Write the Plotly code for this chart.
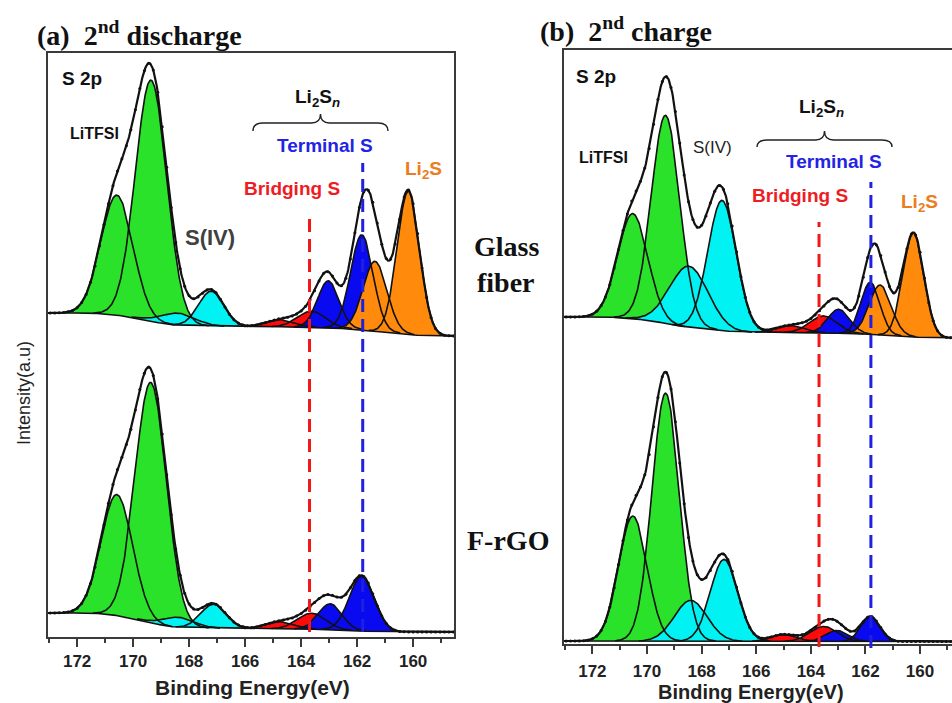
import numpy as np
import plotly.graph_objects as go

W, H = 952, 703

# ---------------- data ----------------
# component order: LiTFSI(2), S(IV)(2), bridging S(2), terminal S(2), Li2S(2)
comp_kind = ["green", "green", "cyan", "cyan", "red", "red", "blue", "blue", "orange", "orange"]

# (a) 2nd discharge - Glass fiber
a_gf_center = [170.58, 169.36, 168.40, 167.21, 164.75, 163.62, 163.03, 161.83, 161.36, 160.17]
a_gf_height = [120, 241, 12, 35, 7, 16, 47, 95, 70, 143]
a_gf_sigma = [0.57, 0.56, 0.60, 0.45, 0.50, 0.50, 0.38, 0.40, 0.42, 0.40]
a_gf_bg = [25, 2]      # background: high-BE side, low-BE side

# (a) 2nd discharge - F-rGO
a_fr_center = [170.58, 169.37, 168.38, 167.13, 164.75, 163.62, 162.96, 161.83]
a_fr_height = [121, 240, 10, 24, 7, 16, 26, 55]
a_fr_sigma = [0.56, 0.56, 0.55, 0.45, 0.50, 0.50, 0.42, 0.45]
a_fr_bg = [24, 5]

# (b) 2nd charge - Glass fiber
b_gf_center = [170.52, 169.32, 168.47, 167.25, 164.75, 163.53, 162.98, 161.82, 161.46, 160.24]
b_gf_height = [105, 208, 61, 130, 7, 17, 24, 52, 50, 104]
b_gf_sigma = [0.55, 0.52, 0.70, 0.52, 0.50, 0.50, 0.40, 0.35, 0.40, 0.38]
b_gf_bg = [23, 2]

# (b) 2nd charge - F-rGO
b_fr_center = [170.52, 169.32, 168.40, 167.18, 165.00, 163.53, 163.04, 161.82]
b_fr_height = [125, 248, 41, 82, 7, 15, 11, 25]
b_fr_sigma = [0.52, 0.50, 0.60, 0.50, 0.45, 0.50, 0.40, 0.35]
b_fr_bg = [3, 2.5]

# reference lines (binding energy, eV)
bridging_S_BE = 163.7
terminal_S_BE = 161.8

x_ticks = [160, 162, 164, 166, 168, 170, 172]

# ---------------- style ----------------
fill_col = {"green": "#2AE22A", "cyan": "#00F2F2", "red": "#FF0A0A",
            "blue": "#0A0AF0", "orange": "#FF8A0C"}

def px(x):
    return x / W

def py(y):
    return 1 - y / H

fig = go.Figure()

E = np.arange(158.4, 173.2, 0.02)


def add_spectrum(centers, heights, sigmas, bg, xa, ya, offset):
    peaks = [h * np.exp(-(E - c) ** 2 / (2 * s ** 2)) for c, h, s in zip(centers, heights, sigmas)]
    total = np.sum(peaks, axis=0)
    cum = np.cumsum(total)
    back = bg[1] + (bg[0] - bg[1]) * cum / cum[-1]
    # fills
    for k, p in enumerate(peaks):
        m = p > 0.25
        xx = E[m]
        up = back[m] + p[m] + offset
        lo = back[m] + offset
        fig.add_trace(go.Scatter(x=np.concatenate([xx, xx[::-1]]),
                                 y=np.concatenate([up, lo[::-1]]),
                                 fill="toself", fillcolor=fill_col[comp_kind[k]],
                                 mode="lines", line=dict(width=0),
                                 xaxis=xa, yaxis=ya, hoverinfo="skip", showlegend=False))
    # outlines
    for k, p in enumerate(peaks):
        m = p > 0.25
        fig.add_trace(go.Scatter(x=E[m], y=back[m] + p[m] + offset, mode="lines",
                                 line=dict(color="#111", width=1.6),
                                 xaxis=xa, yaxis=ya, hoverinfo="skip", showlegend=False))
    fig.add_trace(go.Scatter(x=E, y=back + offset, mode="lines",
                             line=dict(color="#111", width=1.6),
                             xaxis=xa, yaxis=ya, hoverinfo="skip", showlegend=False))
    # envelope
    env = back + total + offset
    fig.add_trace(go.Scatter(x=E, y=env, mode="lines",
                             line=dict(color="#111", width=2.2),
                             xaxis=xa, yaxis=ya, hoverinfo="skip", showlegend=False))
    fig.add_trace(go.Scatter(x=E[::8], y=env[::8], mode="markers",
                             marker=dict(color="#111", size=3),
                             xaxis=xa, yaxis=ya, hoverinfo="skip", showlegend=False))


add_spectrum(a_gf_center, a_gf_height, a_gf_sigma, a_gf_bg, "x", "y", 299)
add_spectrum(a_fr_center, a_fr_height, a_fr_sigma, a_fr_bg, "x", "y", 0)
add_spectrum(b_gf_center, b_gf_height, b_gf_sigma, b_gf_bg, "x2", "y2", 304)
add_spectrum(b_fr_center, b_fr_height, b_fr_sigma, b_fr_bg, "x2", "y2", 0)

frame = "#3a3a3a"
tickfont = dict(family="Arial", size=17, color="#222", weight="bold")

xcommon = dict(showline=True, linecolor=frame, linewidth=2, mirror=True,
               ticks="outside", ticklen=8, tickwidth=2, tickcolor=frame,
               tickvals=x_ticks, tickfont=tickfont, showgrid=False, zeroline=False,
               minor=dict(dtick=1, tick0=160, ticks="outside", ticklen=4,
                          tickwidth=2, tickcolor=frame, showgrid=False))

fig.update_layout(
    width=W, height=H, margin=dict(l=0, r=0, t=0, b=0),
    paper_bgcolor="white", plot_bgcolor="white", showlegend=False,
    xaxis=dict(domain=[px(48), px(454)], range=[173.04, 158.54], anchor="y", **xcommon),
    yaxis=dict(domain=[py(637), py(53)], range=[0, 584], anchor="x",
               showline=True, linecolor=frame, linewidth=2, mirror=True,
               showticklabels=False, ticks="", showgrid=False, zeroline=False),
    xaxis2=dict(domain=[px(564), 1.0], range=[173.04, 158.83], anchor="y2",
                ticklabelstandoff=3, **xcommon),
    yaxis2=dict(domain=[py(644), py(50)], range=[0, 594], anchor="x2",
                showline=True, linecolor=frame, linewidth=2, mirror=False,
                showticklabels=False, ticks="", showgrid=False, zeroline=False),
)

shapes = []
# dashed reference lines
for xa, x0, ya0, ya1, col in [("x", bridging_S_BE, 213, 632, "#F01818"),
                              ("x", terminal_S_BE, 163, 632, "#2020E0"),
                              ("x2", bridging_S_BE, 222, 647, "#F01818"),
                              ("x2", terminal_S_BE, 182, 648, "#2020E0")]:
    shapes.append(dict(type="line", xref=xa, yref="paper", x0=x0, x1=x0,
                       y0=py(ya1), y1=py(ya0),
                       line=dict(color=col, width=3, dash="13px,7px")))


def brace(xl, xr, yb, yh, yt):
    xm = (xl + xr) / 2
    pts = [(xl, yb), (xl, yh), (xl + 10, yh), (xm - 9, yh), (xm, yh), (xm, yt),
           (xm, yh), (xm + 9, yh), (xr - 10, yh), (xr, yh), (xr, yb)]
    p = [(px(a), py(b)) for a, b in pts]
    path = ("M {0[0]},{0[1]} Q {1[0]},{1[1]} {2[0]},{2[1]} L {3[0]},{3[1]} "
            "Q {4[0]},{4[1]} {5[0]},{5[1]} Q {6[0]},{6[1]} {7[0]},{7[1]} "
            "L {8[0]},{8[1]} Q {9[0]},{9[1]} {10[0]},{10[1]}").format(*p)
    return dict(type="path", xref="paper", yref="paper", path=path,
                line=dict(color="#222", width=1.4))


shapes.append(brace(253, 388, 131, 123, 114))
shapes.append(brace(757, 892, 147, 140, 131))
fig.update_layout(shapes=shapes)

ann = []


def txt(text, x, y, size, color="#111", family="Arial", weight="bold", xanchor="center", angle=0):
    ann.append(dict(text=text, x=px(x), y=py(y), xref="paper", yref="paper",
                    xanchor=xanchor, yanchor="middle", showarrow=False, textangle=angle,
                    font=dict(family=family, size=size, color=color, weight=weight)))


serif = "Liberation Serif"
txt("(a)\u00a0\u00a02<sup>nd</sup> discharge", 35, 33, 28, family=serif, xanchor="left")
txt("(b)\u00a0\u00a02<sup>nd</sup> charge", 538, 29, 28, family=serif, xanchor="left")
txt("Glass", 506, 247, 28, family=serif)
txt("fiber", 506, 282, 28, family=serif)
txt("F-rGO", 508, 540, 28, family=serif)

# panel (a) labels
txt("S 2p", 82, 79, 19)
txt("LiTFSI", 94, 133, 16)
txt("S(IV)", 210, 237, 22, color="#404040")
txt("Li<sub>2</sub>S<sub><i>n</i></sub>", 317, 98, 19)
txt("Terminal S", 325, 146, 19, color="#2323E6")
txt("Bridging S", 292, 188, 19, color="#EE1C24")
txt("Li<sub>2</sub>S", 423, 170, 19, color="#EA7D1E")
# panel (b) labels
txt("S 2p", 596, 77, 19)
txt("LiTFSI", 603, 157, 16)
txt("S(IV)", 712, 147, 17, color="#222", weight="normal")
txt("Li<sub>2</sub>S<sub><i>n</i></sub>", 821, 108, 19)
txt("Terminal S", 834, 162, 19, color="#2323E6")
txt("Bridging S", 800, 195, 19, color="#EE1C24")
txt("Li<sub>2</sub>S", 919, 203, 19, color="#EA7D1E")

# axis titles
txt("Binding Energy(eV)", 252, 687, 21, color="#222")
txt("Binding Energy(eV)", 751, 692, 20, color="#222")
txt("Intensity(a.u)", 24, 393, 18, color="#222", weight="normal", angle=-90)

fig.update_layout(annotations=ann)
fig.write_html("out.html", config={"displayModeBar": False},
               post_script="document.body.style.margin='0';document.body.style.overflow='hidden';")
